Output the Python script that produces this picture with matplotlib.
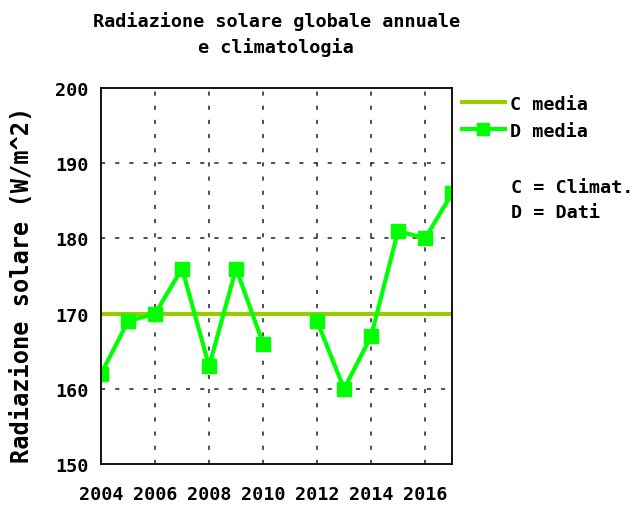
import numpy as np
import matplotlib.pyplot as plt
from matplotlib.lines import Line2D

years = [2004, 2005, 2006, 2007, 2008, 2009, 2010, 2011, 2012, 2013, 2014, 2015, 2016, 2017]
dati = [162, 169, 170, 176, 163, 176, 166, np.nan, 169, 160, 167, 181, 180, 186]
clima = 170
xticks = [2004, 2006, 2008, 2010, 2012, 2014, 2016]
yticks = [150, 160, 170, 180, 190, 200]

plt.rcParams['font.family'] = 'DejaVu Sans Mono'
plt.rcParams['font.weight'] = 'bold'
FS = 13.3

fig = plt.figure(figsize=(6.44, 5.06), dpi=100)
ax = fig.add_axes([0.157, 0.081, 0.545, 0.743])

ax.plot([years[0], years[-1]], [clima, clima], color='#99cc00', lw=3, zorder=3)
ax.plot(years, dati, color='#00ff00', lw=3, marker='s', ms=10, mec='#00ff00', zorder=4)

ax.set_xlim(2004, 2017)
ax.set_ylim(150, 200)
ax.set_xticks(xticks)
ax.set_yticks(yticks)
ax.tick_params(length=0, labelsize=FS)
ax.tick_params(axis='x', pad=15)
ax.tick_params(axis='y', pad=9)
ax.grid(True, color='#333333', ls=(0, (2.5, 6)), lw=1.2)
# no dotted lines over the frame
ax.get_xgridlines()[0].set_visible(False)
ax.get_ygridlines()[0].set_visible(False)
ax.get_ygridlines()[-1].set_visible(False)
for s in ax.spines.values():
    s.set_linewidth(1.3)
    s.set_zorder(5)

ax.set_ylabel('Radiazione solare (W/m^2)', fontsize=17, fontweight='bold')
ax.yaxis.set_label_coords(-0.19, 0.48)

fig.text(0.429, 0.957, 'Radiazione solare globale annuale', ha='center', va='center', fontsize=FS)
fig.text(0.429, 0.907, 'e climatologia', ha='center', va='center', fontsize=FS)

handles = [Line2D([], [], color='#99cc00', lw=3),
           Line2D([], [], color='#00ff00', lw=3, marker='s', ms=9)]
fig.legend(handles, ['C media', 'D media'], loc='upper left', bbox_to_anchor=(0.709, 0.822),
           frameon=False, fontsize=FS, handlelength=2.3, handletextpad=0.3, labelspacing=0.5,
           borderaxespad=0, borderpad=0.3)
fig.text(0.793, 0.628, 'C = Climat.', ha='left', va='center', fontsize=FS)
fig.text(0.793, 0.579, 'D = Dati', ha='left', va='center', fontsize=FS)

fig.savefig('out.png', dpi=100)
